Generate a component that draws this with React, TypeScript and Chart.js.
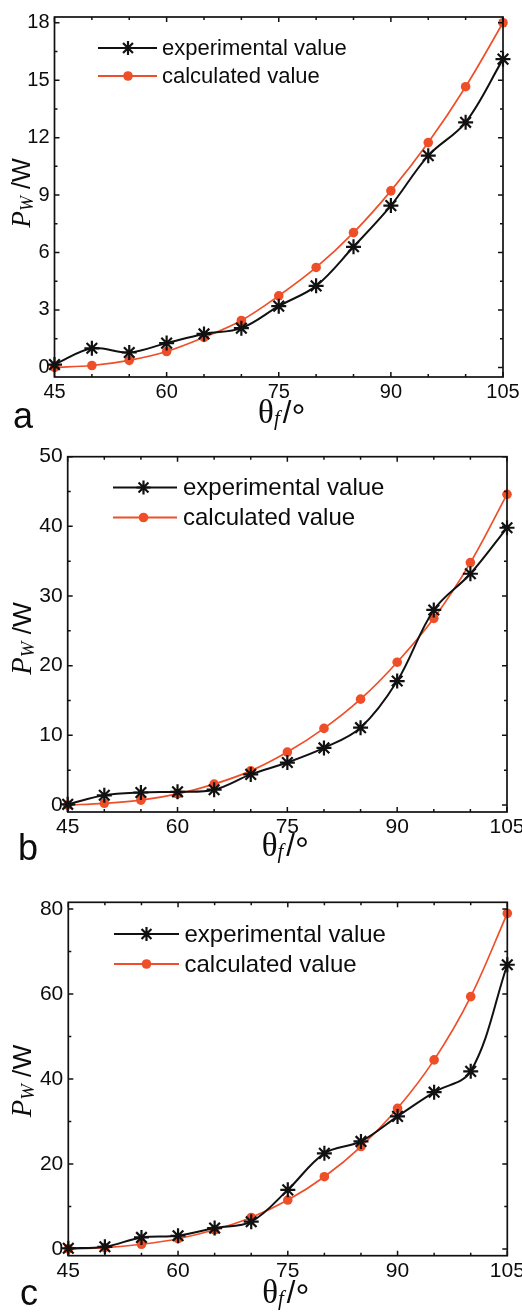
import React, { useEffect, useRef } from "react";
import { Chart, registerables } from "chart.js";

Chart.register(...registerables);

// ---------------- data ----------------
const ANGLES = [45, 50, 55, 60, 65, 70, 75, 80, 85, 90, 95, 100, 105];

const A_EXPERIMENTAL = [0.15, 1.0, 0.78, 1.27, 1.75, 2.05, 3.2, 4.26, 6.3, 8.45, 11.06, 12.8, 16.1];
const A_CALCULATED = [0.0, 0.1, 0.37, 0.83, 1.57, 2.45, 3.74, 5.22, 7.04, 9.22, 11.74, 14.66, 18.0];

const B_EXPERIMENTAL = [0.1, 1.4, 1.8, 1.9, 2.2, 4.4, 6.1, 8.2, 11.1, 17.8, 28.0, 33.2, 39.8];
const B_CALCULATED = [0.0, 0.25, 0.7, 1.6, 3.0, 4.9, 7.6, 11.0, 15.2, 20.5, 26.8, 34.8, 44.6];

const C_EXPERIMENTAL = [0.15, 0.5, 2.7, 3.1, 4.9, 6.4, 13.9, 22.5, 25.3, 31.2, 36.9, 41.8, 66.9];
const C_CALCULATED = [0.0, 0.3, 1.1, 2.4, 4.5, 7.4, 11.5, 17.0, 24.1, 33.1, 44.5, 59.4, 79.0];

const X_TICKS = [45, 60, 75, 90, 105];
const A_Y_TICKS = [0, 3, 6, 9, 12, 15, 18];
const B_Y_TICKS = [0, 10, 20, 30, 40, 50];
const C_Y_TICKS = [0, 20, 40, 60, 80];

const LEGEND_LABELS = ["experimental value", "calculated value"];
const PANEL_LETTERS = ["a", "b", "c"];

// ---------------- layout / styles ----------------
const PAGE_W = 522;
const BLACK = "#111111";
const TEXT = "#0c0c0c";
const ORANGE = "#ef4f28";
const SANS = "'Liberation Sans', Arial, sans-serif";
const SERIF = "'Liberation Serif', 'Times New Roman', serif";

type Layout = {
  top: number; height: number;
  left: number; right: number; areaTop: number; areaBottom: number;
  yMin: number; yMax: number; xMinor: number; yMinor: number;
  tickFont: number; legendFont: number;
  legX0: number; legX1: number; legXm: number; legTx: number; legY1: number; legY2: number;
  letterX: number; letterY: number; letterFont: number;
  xTitleBase: number; xTitleShift: number;
  yTitleBase: number; yTitleShift: number; yTitleScale: number;
};

const LAYOUTS: Layout[] = [
  {
    top: 0, height: 430, left: 54.5, right: 503, areaTop: 17, areaBottom: 377,
    yMin: -0.5, yMax: 18.3, xMinor: 5, yMinor: 1.5, tickFont: 20, legendFont: 22,
    legX0: 98, legX1: 157, legXm: 128, legTx: 162, legY1: 48, legY2: 76,
    letterX: 13, letterY: 428, letterFont: 36,
    xTitleBase: 423, xTitleShift: 3,
    yTitleBase: 30, yTitleShift: -4, yTitleScale: 1.05,
  },
  {
    top: 430, height: 440, left: 67.7, right: 507, areaTop: 456.7, areaBottom: 812,
    yMin: -1, yMax: 50, xMinor: 5, yMinor: 5, tickFont: 21, legendFont: 24,
    legX0: 113, legX1: 177, legXm: 143.5, legTx: 183, legY1: 487.5, legY2: 517.5,
    letterX: 18, letterY: 860, letterFont: 36,
    xTitleBase: 856, xTitleShift: -2,
    yTitleBase: 31, yTitleShift: 4, yTitleScale: 1.1,
  },
  {
    top: 870, height: 442, left: 68.3, right: 507.3, areaTop: 902.3, areaBottom: 1255.7,
    yMin: -1.6, yMax: 81.6, xMinor: 5, yMinor: 10, tickFont: 21, legendFont: 24,
    legX0: 114, legX1: 179, legXm: 146.5, legTx: 184.5, legY1: 934, legY2: 964,
    letterX: 20, letterY: 1305, letterFont: 36,
    xTitleBase: 1303, xTitleShift: -2,
    yTitleBase: 31, yTitleShift: 2, yTitleScale: 1.1,
  },
];

const PANEL_DATA = [
  { exp: A_EXPERIMENTAL, calc: A_CALCULATED, yTicks: A_Y_TICKS },
  { exp: B_EXPERIMENTAL, calc: B_CALCULATED, yTicks: B_Y_TICKS },
  { exp: C_EXPERIMENTAL, calc: C_CALCULATED, yTicks: C_Y_TICKS },
];

function range(min: number, max: number, step: number): number[] {
  const out: number[] = [];
  const start = Math.ceil(min / step - 1e-9) * step;
  for (let v = start; v <= max + 1e-9; v += step) out.push(Math.round(v * 1000) / 1000);
  return out;
}

function drawStar(ctx: CanvasRenderingContext2D, x: number, y: number, r: number) {
  ctx.beginPath();
  ctx.moveTo(x - r, y); ctx.lineTo(x + r, y);
  ctx.moveTo(x, y - r); ctx.lineTo(x, y + r);
  const d = r * Math.SQRT1_2;
  ctx.moveTo(x - d, y - d); ctx.lineTo(x + d, y + d);
  ctx.moveTo(x - d, y + d); ctx.lineTo(x + d, y - d);
  ctx.stroke();
}

function makeDecorPlugin(idx: number) {
  const L = LAYOUTS[idx];
  const D = PANEL_DATA[idx];
  return {
    id: "decor" + idx,
    afterDatasetsDraw(chart: any) {
      const ctx: CanvasRenderingContext2D = chart.ctx;
      const a = chart.chartArea;
      const xs = chart.scales.x;
      const ys = chart.scales.y;
      ctx.save();
      // frame
      ctx.strokeStyle = BLACK;
      ctx.lineWidth = 1.7;
      ctx.strokeRect(a.left, a.top, a.right - a.left, a.bottom - a.top);
      // ticks (inward, mirrored)
      ctx.lineWidth = 1.5;
      range(45, 105, L.xMinor).forEach((v) => {
        const px = xs.getPixelForValue(v);
        const len = X_TICKS.includes(v) ? 5 : 3;
        ctx.beginPath();
        ctx.moveTo(px, a.bottom); ctx.lineTo(px, a.bottom - len);
        ctx.moveTo(px, a.top); ctx.lineTo(px, a.top + len);
        ctx.stroke();
      });
      range(L.yMin, L.yMax, L.yMinor).forEach((v) => {
        const py = ys.getPixelForValue(v);
        const len = D.yTicks.includes(v) ? 5 : 3;
        ctx.beginPath();
        ctx.moveTo(a.left, py); ctx.lineTo(a.left + len, py);
        ctx.moveTo(a.right, py); ctx.lineTo(a.right - len, py);
        ctx.stroke();
      });

      // legend
      const off = L.top;
      const rows = [
        { y: L.legY1 - off, color: BLACK, star: true },
        { y: L.legY2 - off, color: ORANGE, star: false },
      ];
      rows.forEach((r, i) => {
        ctx.strokeStyle = r.color;
        ctx.lineWidth = 1.9;
        ctx.beginPath();
        ctx.moveTo(L.legX0, r.y); ctx.lineTo(L.legX1, r.y);
        ctx.stroke();
        if (r.star) {
          ctx.lineWidth = 2.2;
          drawStar(ctx, L.legXm, r.y, 7);
        } else {
          ctx.fillStyle = ORANGE;
          ctx.beginPath();
          ctx.arc(L.legXm, r.y, 4.8, 0, Math.PI * 2);
          ctx.fill();
        }
        ctx.fillStyle = TEXT;
        ctx.font = `${L.legendFont}px ${SANS}`;
        ctx.textAlign = "left";
        ctx.textBaseline = "middle";
        ctx.fillText(LEGEND_LABELS[i], L.legTx, r.y + 1);
      });

      // panel letter
      ctx.fillStyle = TEXT;
      ctx.font = `${L.letterFont}px ${SANS}`;
      ctx.textBaseline = "alphabetic";
      ctx.textAlign = "left";
      ctx.fillText(PANEL_LETTERS[idx], L.letterX, L.letterY - off);

      // x title: θf /°
      const thetaFont = `33px ${SERIF}`;
      const fFont = `italic 21px ${SERIF}`;
      const slashFont = `31px ${SANS}`;
      const degFont = `35px ${SANS}`;
      ctx.font = thetaFont; const wTheta = ctx.measureText("θ").width;
      ctx.font = fFont; const wF = ctx.measureText("f").width;
      ctx.font = slashFont; const wSlash = ctx.measureText("/").width;
      ctx.font = degFont; const wDeg = ctx.measureText("°").width;
      const gap = 3;
      const total = wTheta + wF + gap + wSlash + wDeg;
      let x = (a.left + a.right) / 2 + L.xTitleShift - total / 2;
      const base = L.xTitleBase - off;
      ctx.font = thetaFont; ctx.fillText("θ", x, base); x += wTheta;
      ctx.font = fFont; ctx.fillText("f", x, base + 2); x += wF + gap;
      ctx.font = slashFont; ctx.fillText("/", x, base); x += wSlash;
      ctx.font = degFont; ctx.fillText("°", x, base + 6);

      // y title: P_W /W  (rotated)
      const s = L.yTitleScale;
      const pFont = `italic ${26 * s}px ${SERIF}`;
      const subFont = `italic ${17 * s}px ${SERIF}`;
      const wFont = `${24 * s}px ${SANS}`;
      ctx.font = pFont; const wP = ctx.measureText("P").width;
      ctx.font = subFont; const wW = ctx.measureText("W").width;
      ctx.font = wFont; const wRest = ctx.measureText(" /W").width;
      const tot2 = wP + wW + wRest;
      ctx.translate(L.yTitleBase, (a.top + a.bottom) / 2 + L.yTitleShift);
      ctx.rotate(-Math.PI / 2);
      let tx = -tot2 / 2;
      ctx.font = pFont; ctx.fillText("P", tx, 0); tx += wP;
      ctx.font = subFont; ctx.fillText("W", tx, 3 * s); tx += wW;
      ctx.font = wFont; ctx.fillText(" /W", tx, 0);
      ctx.restore();
    },
  };
}

function Panel({ idx }: { idx: number }) {
  const ref = useRef<HTMLCanvasElement | null>(null);
  const L = LAYOUTS[idx];
  const D = PANEL_DATA[idx];
  useEffect(() => {
    if (!ref.current) return;
    const yTickValues = D.yTicks;
    const chart = new Chart(ref.current, {
      type: "line",
      data: {
        datasets: [
          {
            label: LEGEND_LABELS[0],
            data: ANGLES.map((x, i) => ({ x, y: D.exp[i] })),
            borderColor: BLACK,
            borderWidth: 2,
            tension: 0.35,
            pointStyle: "star",
            pointRadius: 7.5,
            pointBorderWidth: 2.2,
            pointBorderColor: BLACK,
            pointBackgroundColor: BLACK,
            clip: false as any,
          },
          {
            label: LEGEND_LABELS[1],
            data: ANGLES.map((x, i) => ({ x, y: D.calc[i] })),
            borderColor: ORANGE,
            borderWidth: 1.7,
            tension: 0.35,
            pointStyle: "circle",
            pointRadius: 4.8,
            pointBorderWidth: 0,
            pointBackgroundColor: ORANGE,
            clip: false as any,
          },
        ],
      },
      options: {
        animation: false,
        responsive: false,
        maintainAspectRatio: false,
        events: [],
        layout: { padding: { left: 0, top: L.areaTop - L.top, right: PAGE_W - L.right, bottom: 0 } },
        plugins: { legend: { display: false }, tooltip: { enabled: false } },
        scales: {
          x: {
            type: "linear",
            min: 45,
            max: 105,
            afterBuildTicks: (s: any) => { s.ticks = X_TICKS.map((v) => ({ value: v })); },
            afterFit: (s: any) => { s.height = L.top + L.height - L.areaBottom; s.paddingLeft = 0; s.paddingRight = 0; },
            grid: { display: false, drawTicks: false },
            border: { display: false },
            ticks: {
              padding: 3,
              color: TEXT,
              autoSkip: false,
              maxRotation: 0,
              font: { family: SANS, size: L.tickFont },
            },
          },
          y: {
            type: "linear",
            min: L.yMin,
            max: L.yMax,
            afterBuildTicks: (s: any) => { s.ticks = yTickValues.map((v) => ({ value: v })); },
            afterFit: (s: any) => { s.width = L.left; s.paddingTop = 0; s.paddingBottom = 0; },
            grid: { display: false, drawTicks: false },
            border: { display: false },
            ticks: {
              padding: 5,
              color: TEXT,
              autoSkip: false,
              font: { family: SANS, size: L.tickFont },
            },
          },
        },
      },
      plugins: [makeDecorPlugin(idx)],
    } as any);
    return () => chart.destroy();
  }, []);
  return (
    <canvas
      ref={ref}
      width={PAGE_W}
      height={L.height}
      style={{ position: "absolute", left: 0, top: L.top, width: PAGE_W, height: L.height, display: "block" }}
    />
  );
}

export default function App() {
  return (
    <div style={{ position: "absolute", left: 0, top: 0, width: PAGE_W, height: 1312, background: "#ffffff", overflow: "hidden" }}>
      <Panel idx={0} />
      <Panel idx={1} />
      <Panel idx={2} />
    </div>
  );
}
